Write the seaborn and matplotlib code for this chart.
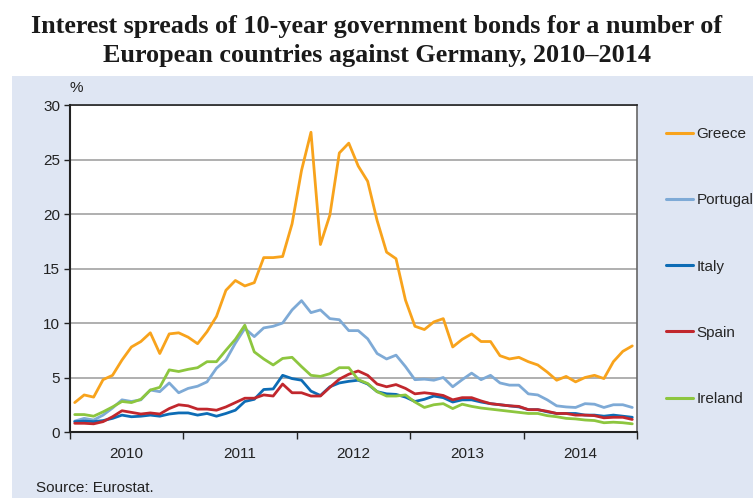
import numpy as np
import pandas as pd
import matplotlib
matplotlib.use('Agg')
import matplotlib.pyplot as plt
import seaborn as sns
from matplotlib.patches import Rectangle

# monthly spreads vs Germany, Jan 2010 - Dec 2014
years = ['2010', '2011', '2012', '2013', '2014']
countries = ['Greece', 'Portugal', 'Italy', 'Spain', 'Ireland']

greece = [2.7, 3.4, 3.2, 4.8, 5.2, 6.6, 7.8, 8.3, 9.1, 7.2, 9.0, 9.1,
          8.7, 8.1, 9.2, 10.6, 13.0, 13.9, 13.4, 13.7, 16.0, 16.0, 16.1, 19.1,
          24.0, 27.5, 17.2, 19.9, 25.6, 26.5, 24.4, 23.0, 19.4, 16.5, 15.9, 12.1,
          9.7, 9.4, 10.1, 10.4, 7.8, 8.5, 9.0, 8.3, 8.3, 7.0, 6.7, 6.85,
          6.45, 6.15, 5.5, 4.75, 5.1, 4.6, 5.0, 5.2, 4.9, 6.45, 7.4, 7.9]
portugal = [1.0, 1.25, 1.1, 1.55, 2.2, 2.95, 2.8, 2.95, 3.85, 3.7, 4.5, 3.6,
            4.0, 4.2, 4.6, 5.85, 6.6, 8.15, 9.5, 8.75, 9.55, 9.7, 10.0, 11.2,
            12.05, 10.95, 11.2, 10.4, 10.3, 9.3, 9.3, 8.55, 7.2, 6.7, 7.05, 6.0,
            4.8, 4.85, 4.75, 5.0, 4.15, 4.8, 5.4, 4.8, 5.2, 4.5, 4.3, 4.3,
            3.5, 3.4, 2.95, 2.4, 2.3, 2.25, 2.6, 2.55, 2.25, 2.5, 2.5, 2.25]
italy = [0.95, 1.0, 0.95, 1.05, 1.25, 1.55, 1.4, 1.45, 1.55, 1.45, 1.65, 1.75,
         1.75, 1.55, 1.7, 1.45, 1.7, 2.0, 2.8, 3.0, 3.9, 3.95, 5.2, 4.9,
         4.75, 3.75, 3.35, 4.15, 4.5, 4.65, 4.75, 4.4, 3.7, 3.5, 3.45, 3.2,
         2.8, 3.0, 3.3, 3.15, 2.75, 2.95, 2.95, 2.75, 2.6, 2.5, 2.4, 2.3,
         2.05, 2.05, 1.85, 1.7, 1.7, 1.7, 1.55, 1.55, 1.45, 1.55, 1.45, 1.35]
spain = [0.8, 0.8, 0.75, 0.95, 1.4, 1.95, 1.8, 1.65, 1.75, 1.65, 2.15, 2.5,
         2.4, 2.1, 2.1, 2.0, 2.3, 2.7, 3.1, 3.1, 3.4, 3.3, 4.4, 3.6,
         3.6, 3.3, 3.3, 4.1, 4.85, 5.3, 5.6, 5.2, 4.4, 4.15, 4.35, 4.0,
         3.5, 3.6, 3.5, 3.35, 2.95, 3.15, 3.15, 2.85, 2.6, 2.5, 2.4, 2.35,
         2.05, 2.05, 1.9, 1.7, 1.7, 1.55, 1.55, 1.5, 1.3, 1.35, 1.35, 1.15]
ireland = [1.6, 1.6, 1.45, 1.85, 2.3, 2.8, 2.7, 3.0, 3.85, 4.1, 5.7, 5.55,
           5.75, 5.9, 6.45, 6.45, 7.5, 8.5, 9.8, 7.35, 6.7, 6.15, 6.75, 6.85,
           6.0, 5.2, 5.1, 5.35, 5.9, 5.9, 4.8, 4.45, 3.7, 3.3, 3.3, 3.4,
           2.75, 2.25, 2.5, 2.6, 2.15, 2.55, 2.35, 2.2, 2.1, 2.0, 1.9, 1.8,
           1.7, 1.7, 1.5, 1.4, 1.25, 1.2, 1.1, 1.05, 0.85, 0.9, 0.85, 0.75]

colors = ['#f8a31c', '#7eaad6', '#0d6cb5', '#c1272d', '#8dc63f']

series = [greece, portugal, italy, spain, ireland]
month = np.arange(len(greece)) + 0.5  # centre of each month
df = pd.concat([pd.DataFrame({'month': month, 'spread': s, 'country': c})
                for c, s in zip(countries, series)], ignore_index=True)

sns.set_style('white')
plt.rcParams['font.family'] = ['Liberation Sans', 'DejaVu Sans']

fig = plt.figure(figsize=(7.53, 4.98), dpi=100)
fig.patch.set_facecolor('white')
# light blue panel behind the chart
fig.patches.append(Rectangle((12/753, 0), 1, 1 - 76/498, transform=fig.transFigure,
                             facecolor='#dfe6f3', edgecolor='none', zorder=-10))

ax = fig.add_axes([70/753, 1 - 432/498, 567/753, 327/498])
ax.set_zorder(1)
ax.set_facecolor('white')

sns.lineplot(data=df, x='month', y='spread', hue='country', hue_order=countries,
             palette=colors, linewidth=2.0, ax=ax)

ax.set_xlim(0, 60)
ax.set_ylim(0, 30)
ax.set_yticks(range(0, 31, 5))
ax.yaxis.grid(True, color='#9a9a9a', linewidth=1.1)
ax.xaxis.grid(False)
ax.set_axisbelow(True)

ax.set_xticks(range(0, 61, 12))
ax.set_xticklabels([])
ax.set_xticks(np.arange(6, 60, 12), minor=True)
ax.set_xticklabels(years, minor=True)
ax.tick_params(axis='x', which='major', direction='out', length=5, width=1, color='#222222', bottom=True)
ax.tick_params(axis='x', which='minor', length=0, labelsize=11, labelcolor='#222222', pad=11)
ax.tick_params(axis='y', direction='out', length=4, width=1, color='#222222', left=True,
               labelsize=11, labelcolor='#222222', pad=3)
ax.set_xlabel('')
ax.set_ylabel('')

for side in ['left', 'bottom']:
    ax.spines[side].set_color('#222222')
    ax.spines[side].set_linewidth(1.5)
ax.spines['top'].set_color('#222222')
ax.spines['top'].set_linewidth(1.2)
ax.spines['right'].set_color('#666666')
ax.spines['right'].set_linewidth(1.2)

handles, labels = ax.get_legend_handles_labels()
ax.legend(handles, labels, loc='upper left', bbox_to_anchor=(666/753, 1 - 127/498),
          bbox_transform=fig.transFigure, frameon=False, fontsize=11,
          handlelength=1.75, handletextpad=0.25, labelspacing=3.42, borderaxespad=0,
          borderpad=0)
for line in ax.get_legend().get_lines():
    line.set_linewidth(2.2)

fig.text(70/753, 1 - 88/498, '%', fontsize=11, color='#222222', va='center')
fig.text(377/753, 1 - 41/498,
         'Interest spreads of 10-year government bonds for a number of\n'
         'European countries against Germany, 2010\u20132014',
         ha='center', va='center', fontsize=18.8, fontweight='bold',
         family='Liberation Serif', color='#1a1a1a', linespacing=1.3)
fig.text(36/753, 1 - 488/498, 'Source: Eurostat.', fontsize=11, color='#222222', va='center')

fig.savefig('out.png', dpi=100)
